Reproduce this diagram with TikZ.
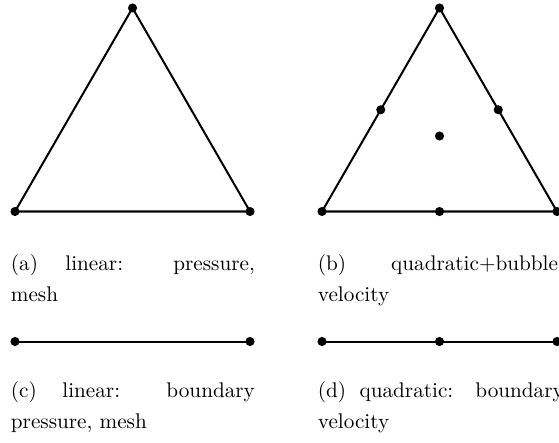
\documentclass[tikz,border=0pt]{standalone}
\begin{document}
\begin{tikzpicture}[x=0.4717pt,y=-0.4717pt,
  edge/.style={line width=0.95pt},
  dotnode/.style={circle,fill=black,inner sep=0pt,minimum size=4.3pt},
  captext/.style={anchor=base west,inner sep=0pt,text width=115.1pt,align=justify,font=\fontsize{10}{15}\selectfont},
  captextr/.style={captext,text width=116pt}]
\useasboundingbox (0,0) rectangle (559,442);
% (a) linear triangle
\node[dotnode] (a1) at (15,211.5) {};
\node[dotnode] (a2) at (250,211.5) {};
\node[dotnode] (a3) at (132.5,8) {};
\draw[edge] (a1.center) -- (a2.center) -- (a3.center) -- cycle;
% (b) quadratic + bubble triangle
\node[dotnode] (b1) at (322,211.5) {};
\node[dotnode] (b2) at (557,211.5) {};
\node[dotnode] (b3) at (439.5,8) {};
\draw[edge] (b1.center) -- (b2.center) -- (b3.center) -- cycle;
\node[dotnode] (b12) at (439.5,211.5) {};
\node[dotnode] (b23) at (498.25,109.75) {};
\node[dotnode] (b31) at (380.75,109.75) {};
\node[dotnode] (bc) at (439.5,136) {};
% (c) linear segment
\node[dotnode] (c1) at (15,341.5) {};
\node[dotnode] (c2) at (250,341.5) {};
\draw[edge] (c1.center) -- (c2.center);
% (d) quadratic segment
\node[dotnode] (d1) at (322,341.5) {};
\node[dotnode] (d2) at (439.5,341.5) {};
\node[dotnode] (d3) at (557,341.5) {};
\draw[edge] (d1.center) -- (d2.center) -- (d3.center);
% captions
\node[captext] (capa) at (10.5,270) {(a) linear: pressure,\linebreak mesh};
\node[captextr] (capb) at (317.5,270) {(b) quadratic+bubble:\linebreak velocity};
\node[captext] (capc) at (10.5,397) {(c) linear: boundary\linebreak pressure, mesh};
\node[captextr] (capd) at (317.5,397) {(d) quadratic: boundary\linebreak velocity};
\end{tikzpicture}
\end{document}
